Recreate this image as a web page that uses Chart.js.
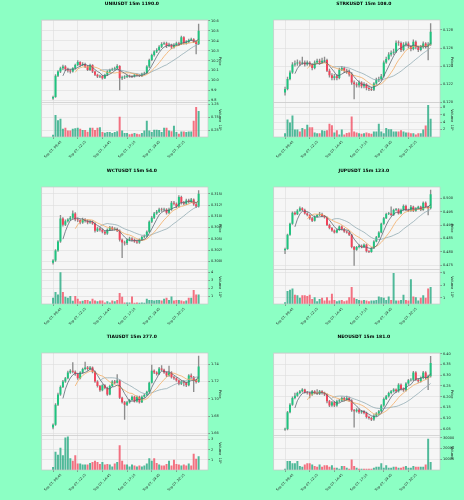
<!DOCTYPE html>
<html>
<head>
<meta charset="utf-8">
<script src="https://cdn.jsdelivr.net/npm/chart.js@4.4.1/dist/chart.umd.min.js"></script>
<style>
  body { margin: 0; width: 464px; height: 500px; overflow: hidden; position: relative; background: #8cffc4; }
  canvas { position: absolute; }
</style>
</head>
<body>
<canvas id="c0" width="232" height="166" style="left:0px;top:0px"></canvas>
<canvas id="c1" width="232" height="166" style="left:232px;top:0px"></canvas>
<canvas id="c2" width="232" height="166" style="left:0px;top:167px"></canvas>
<canvas id="c3" width="232" height="166" style="left:232px;top:167px"></canvas>
<canvas id="c4" width="232" height="166" style="left:0px;top:333px"></canvas>
<canvas id="c5" width="232" height="166" style="left:232px;top:333px"></canvas>
<script>
// date labels shown every 10 candles (15m bars)
const dateTicks = ['Sep 07, 09:45', 'Sep 07, 12:15', 'Sep 07, 14:45', 'Sep 07, 17:15', 'Sep 07, 19:45', 'Sep 07, 22:15'];

// UNIUSDT
const uniFirstOpen = 9.82;
const uniClose = [9.834,10.047,10.09,10.124,10.14,10.114,10.10,10.09,10.124,10.157,10.187,10.157,10.167,10.14,10.107,10.157,10.09,10.057,10.04,10.047,10.024,10.057,10.09,10.107,10.114,10.124,10.147,10.024,10.034,10.037,10.047,10.044,10.04,10.057,10.054,10.047,10.067,10.074,10.14,10.207,10.257,10.29,10.307,10.34,10.367,10.374,10.347,10.357,10.334,10.357,10.374,10.364,10.434,10.374,10.39,10.407,10.414,10.39,10.367,10.50];
const uniHigh = [9.845,10.06,10.10,10.135,10.155,10.15,10.125,10.11,10.13,10.165,10.20,10.19,10.18,10.175,10.15,10.165,10.16,10.095,10.065,10.055,10.05,10.065,10.10,10.115,10.125,10.135,10.16,10.15,10.045,10.05,10.055,10.055,10.05,10.065,10.065,10.06,10.075,10.085,10.15,10.215,10.265,10.30,10.32,10.35,10.38,10.385,10.385,10.375,10.365,10.37,10.385,10.385,10.445,10.44,10.40,10.415,10.425,10.42,10.40,10.567];
const uniLow = [9.81,9.83,10.04,10.08,10.11,10.10,10.085,10.075,10.085,10.115,10.15,10.145,10.15,10.13,10.10,10.10,10.08,10.05,10.03,10.03,10.015,10.02,10.05,10.08,10.10,10.105,10.115,9.907,10.01,10.02,10.03,10.035,10.03,10.035,10.045,10.04,10.04,10.06,10.07,10.13,10.20,10.245,10.28,10.30,10.33,10.36,10.33,10.34,10.32,10.325,10.35,10.35,10.36,10.365,10.365,10.38,10.40,10.38,10.267,10.36];
const uniVolume = [0.09,0.84,0.64,0.69,0.31,0.35,0.25,0.25,0.31,0.33,0.35,0.31,0.27,0.27,0.20,0.35,0.35,0.27,0.35,0.37,0.19,0.16,0.19,0.19,0.15,0.19,0.22,0.77,0.25,0.15,0.15,0.10,0.12,0.15,0.12,0.10,0.15,0.25,0.62,0.25,0.19,0.28,0.28,0.27,0.19,0.35,0.35,0.25,0.22,0.43,0.19,0.12,0.21,0.21,0.19,0.21,0.21,0.62,1.14,0.99];
const uniPriceTicks = ['9.8','9.9','10.0','10.1','10.2','10.3','10.4','10.5','10.6'];
const uniVolumeTicks = ['0.25','0.50','0.75','1.00','1.25'];

// STRKUSDT
const strkFirstOpen = 0.1211;
const strkClose = [0.1215,0.1226,0.1233,0.1242,0.1243,0.1244,0.1243,0.1244,0.1242,0.1244,0.1242,0.1238,0.1244,0.1246,0.1244,0.1246,0.1247,0.1235,0.1230,0.1227,0.1229,0.1227,0.1236,0.1238,0.1235,0.1234,0.1231,0.1222,0.1220,0.1219,0.1222,0.1218,0.1220,0.1216,0.1215,0.1214,0.1221,0.1225,0.1226,0.1229,0.1244,0.1248,0.1253,0.1255,0.1256,0.1266,0.12655,0.1258,0.1264,0.1265,0.1262,0.1259,0.1267,0.1261,0.1258,0.1261,0.1265,0.1262,0.1264,0.1278];
const strkHigh = [0.1217,0.1228,0.1235,0.1244,0.1246,0.1247,0.1246,0.1250,0.1246,0.1246,0.1245,0.1243,0.1246,0.1248,0.1248,0.1249,0.1250,0.1248,0.1237,0.1232,0.1231,0.1231,0.1238,0.1240,0.1239,0.1237,0.1236,0.1233,0.1224,0.1222,0.1224,0.1223,0.1222,0.1221,0.1218,0.1217,0.1222,0.1227,0.1228,0.1231,0.1246,0.1250,0.1255,0.1257,0.1259,0.1268,0.1268,0.1267,0.1266,0.1267,0.1267,0.1263,0.1269,0.1268,0.1262,0.1263,0.1267,0.1266,0.1266,0.1287];
const strkLow = [0.1208,0.1214,0.1225,0.1232,0.1240,0.1241,0.1241,0.1242,0.1240,0.1241,0.1240,0.1236,0.1237,0.1243,0.1242,0.1243,0.1244,0.1234,0.1228,0.1225,0.1225,0.1225,0.1226,0.1235,0.1233,0.1232,0.1229,0.1220,0.1204,0.1217,0.1217,0.1216,0.1216,0.1214,0.1213,0.1213,0.1213,0.1220,0.1223,0.1225,0.1228,0.1243,0.1247,0.1251,0.1253,0.1255,0.1263,0.1256,0.1257,0.1262,0.1260,0.1257,0.1258,0.1259,0.1256,0.1257,0.1260,0.1260,0.1247,0.1263];
const strkVolume = [1.0,4.7,3.9,5.8,2.0,2.0,1.5,2.4,2.1,3.3,2.6,2.6,1.2,1.0,1.0,1.8,1.7,1.8,3.6,3.2,1.2,1.8,0.7,2.0,0.7,1.1,1.2,5.5,1.5,1.2,1.0,0.9,1.0,1.2,1.0,0.9,1.5,1.5,3.6,1.5,1.0,2.4,2.1,2.1,1.5,1.5,1.5,1.8,1.5,1.2,1.2,1.0,1.0,0.7,1.0,1.0,2.0,3.1,8.6,4.9];
const strkPriceTicks = ['0.120','0.122','0.124','0.126','0.128'];
const strkVolumeTicks = ['2','4','6','8'];

// WCTUSDT
const wctFirstOpen = 0.2997;
const wctClose = [0.3002,0.3024,0.3044,0.3095,0.3081,0.3089,0.3093,0.3097,0.3106,0.3093,0.3091,0.3086,0.3093,0.3090,0.3086,0.3088,0.3084,0.3068,0.3073,0.3070,0.3066,0.3062,0.3070,0.3075,0.3071,0.3072,0.3068,0.3048,0.3042,0.3040,0.3048,0.3051,0.3048,0.3044,0.3042,0.3048,0.3054,0.3056,0.3066,0.3088,0.3097,0.3106,0.3110,0.3115,0.3114,0.3115,0.3108,0.3115,0.3130,0.3128,0.3122,0.3143,0.3130,0.3128,0.3135,0.3132,0.3137,0.3127,0.3122,0.3150];
const wctHigh = [0.3004,0.3026,0.3046,0.3102,0.3097,0.3092,0.3095,0.3100,0.3112,0.3108,0.3096,0.3093,0.3096,0.3095,0.3092,0.3091,0.3090,0.3086,0.3076,0.3075,0.3072,0.3068,0.3072,0.3078,0.3077,0.3075,0.3074,0.3070,0.3050,0.3045,0.3050,0.3054,0.3053,0.3050,0.3047,0.3050,0.3056,0.3059,0.3068,0.3090,0.3100,0.3109,0.3113,0.3118,0.3118,0.3118,0.3117,0.3118,0.3133,0.3133,0.3130,0.3146,0.3145,0.3133,0.3138,0.3138,0.3140,0.3139,0.3130,0.3157];
const wctLow = [0.2994,0.3000,0.3022,0.3042,0.3078,0.3079,0.3087,0.3091,0.3095,0.3090,0.3088,0.3083,0.3084,0.3087,0.3083,0.3084,0.3082,0.3065,0.3066,0.3067,0.3063,0.3059,0.3060,0.3068,0.3069,0.3069,0.3066,0.3045,0.3008,0.3036,0.3037,0.3046,0.3045,0.3042,0.3040,0.3040,0.3046,0.3052,0.3054,0.3064,0.3086,0.3095,0.3104,0.3108,0.3111,0.3112,0.3105,0.3106,0.3113,0.3125,0.3119,0.3120,0.3127,0.3125,0.3126,0.3129,0.3130,0.3124,0.3119,0.3120];
const wctVolume = [0.8,1.5,1.2,4.0,1.5,0.9,0.8,1.0,0.4,1.0,0.65,0.35,0.4,0.5,0.5,0.35,0.65,0.45,0.35,0.45,0.45,0.2,0.35,0.2,0.45,0.35,0.5,1.4,0.9,0.2,0.2,0.2,0.95,0.15,0.2,0.15,0.2,0.15,0.65,0.5,0.5,0.45,0.5,0.5,0.45,0.65,0.8,0.5,0.95,0.45,0.5,0.5,0.45,0.35,0.45,0.8,0.8,1.75,1.2,1.2];
const wctPriceTicks = ['0.3000','0.3025','0.3050','0.3075','0.3100','0.3125','0.3150'];
const wctVolumeTicks = ['1','2','3','4'];

// JUPUSDT
const jupFirstOpen = 0.4806;
const jupClose = [0.4811,0.4864,0.4905,0.4947,0.4941,0.4954,0.4963,0.4957,0.4944,0.4938,0.4926,0.4917,0.4932,0.4938,0.4942,0.4934,0.4929,0.4901,0.4889,0.4880,0.4873,0.4882,0.4895,0.4885,0.4876,0.4873,0.4864,0.4818,0.4808,0.4818,0.4823,0.4818,0.4827,0.4802,0.4800,0.4814,0.4839,0.4855,0.4873,0.4905,0.4926,0.4942,0.4944,0.4938,0.4957,0.4959,0.4944,0.4957,0.4972,0.4957,0.4954,0.4969,0.4954,0.4963,0.4969,0.4957,0.4984,0.4969,0.4963,0.5016];
const jupHigh = [0.4814,0.4867,0.4908,0.4950,0.4951,0.4958,0.4969,0.4966,0.4960,0.4947,0.4940,0.4929,0.4935,0.4941,0.4948,0.4945,0.4937,0.4931,0.4904,0.4892,0.4883,0.4885,0.4898,0.4898,0.4888,0.4879,0.4876,0.4866,0.4821,0.4821,0.4826,0.4826,0.4830,0.4829,0.4805,0.4817,0.4842,0.4858,0.4876,0.4908,0.4929,0.4945,0.4948,0.4969,0.4960,0.4963,0.4962,0.4960,0.4976,0.4975,0.4960,0.4974,0.4972,0.4966,0.4972,0.4972,0.4987,0.4987,0.4972,0.5031];
const jupLow = [0.4793,0.4809,0.4862,0.4903,0.4938,0.4939,0.4952,0.4954,0.4941,0.4935,0.4922,0.4913,0.4915,0.4930,0.4936,0.4931,0.4926,0.4898,0.4886,0.4877,0.4870,0.4871,0.4880,0.4882,0.4873,0.4870,0.4861,0.4815,0.4749,0.4805,0.4815,0.4815,0.4816,0.4799,0.4797,0.4798,0.4812,0.4837,0.4853,0.4871,0.4903,0.4924,0.4939,0.4935,0.4936,0.4954,0.4941,0.4942,0.4955,0.4954,0.4951,0.4952,0.4951,0.4952,0.4960,0.4954,0.4955,0.4966,0.4938,0.4961];
const jupVolume = [0.3,2.1,2.3,2.5,1.5,1.4,1.0,1.4,1.4,1.3,1.5,0.8,1.1,0.45,0.8,1.0,0.55,1.1,0.55,1.65,0.65,0.45,0.55,0.65,0.45,0.55,1.1,2.75,1.0,0.8,0.65,0.55,0.65,0.55,0.45,0.55,0.55,0.65,1.2,1.1,1.0,0.65,1.2,0.65,5.0,0.55,0.55,0.65,1.5,0.65,0.55,4.0,1.2,1.1,0.55,1.0,1.4,1.0,2.5,2.75];
const jupPriceTicks = ['0.475','0.480','0.485','0.490','0.495','0.500'];
const jupVolumeTicks = ['1','2','3','4','5'];

// TIAUSDT
const tiaFirstOpen = 1.6668;
const tiaClose = [1.6698,1.6931,1.7051,1.7137,1.7201,1.7238,1.7306,1.7325,1.7314,1.7287,1.7238,1.7306,1.7344,1.7362,1.7344,1.7362,1.7314,1.7201,1.7148,1.7100,1.7156,1.7126,1.7051,1.7148,1.7201,1.7186,1.7212,1.7013,1.6961,1.6931,1.6961,1.6987,1.7024,1.6969,1.7024,1.6961,1.7024,1.7043,1.7081,1.7186,1.7325,1.7306,1.7287,1.7351,1.7336,1.7306,1.7269,1.7306,1.7250,1.7238,1.7212,1.7175,1.7201,1.7186,1.7156,1.7269,1.7250,1.7212,1.7195,1.7374];
const tiaHigh = [1.6710,1.6945,1.7065,1.7150,1.7215,1.7250,1.7320,1.7340,1.7419,1.7325,1.7295,1.7315,1.7355,1.7426,1.7375,1.7375,1.7370,1.7320,1.7210,1.7155,1.7165,1.7165,1.7135,1.7160,1.7210,1.7215,1.7280,1.7220,1.7020,1.6970,1.6970,1.6995,1.7035,1.7030,1.7035,1.7030,1.7035,1.7055,1.7090,1.7195,1.7390,1.7335,1.7315,1.7365,1.7385,1.7345,1.7315,1.7380,1.7315,1.7260,1.7245,1.7220,1.7210,1.7210,1.7195,1.7280,1.7290,1.7260,1.7225,1.7494];
const tiaLow = [1.6649,1.6690,1.6920,1.7040,1.7130,1.7190,1.7230,1.7295,1.7300,1.7270,1.7225,1.7230,1.7295,1.7335,1.7330,1.7335,1.7300,1.7190,1.7135,1.7085,1.7090,1.7115,1.7040,1.7045,1.7140,1.7175,1.7180,1.7000,1.6950,1.6761,1.6920,1.6950,1.6980,1.6960,1.6960,1.6950,1.6955,1.7015,1.7035,1.7075,1.7180,1.7290,1.7275,1.7280,1.7325,1.7295,1.7255,1.7260,1.7240,1.7225,1.7200,1.7160,1.7165,1.7150,1.7140,1.7150,1.7240,1.7081,1.7180,1.7190];
const tiaVolume = [0.3,1.8,1.5,2.2,1.45,3.2,3.3,1.15,0.9,1.45,0.65,0.65,0.55,0.55,0.55,0.7,0.8,0.9,0.8,0.6,0.8,0.55,0.6,0.55,0.35,0.65,0.8,2.45,0.9,0.55,0.55,0.35,0.55,0.45,0.35,0.45,0.35,0.45,0.65,1.15,0.9,1.15,0.7,0.55,0.45,0.45,0.6,0.9,0.45,1.0,0.6,0.55,0.45,0.55,0.45,0.65,0.45,1.6,1.1,1.35];
const tiaPriceTicks = ['1.66','1.68','1.70','1.72','1.74'];
const tiaVolumeTicks = ['1','2','3'];

// NEOUSDT
const neoFirstOpen = 6.048;
const neoClose = [6.050,6.128,6.163,6.194,6.205,6.217,6.225,6.233,6.220,6.217,6.210,6.225,6.217,6.214,6.225,6.217,6.210,6.179,6.159,6.174,6.159,6.179,6.183,6.194,6.186,6.194,6.183,6.137,6.132,6.140,6.128,6.132,6.125,6.106,6.101,6.094,6.112,6.121,6.132,6.159,6.190,6.202,6.217,6.225,6.233,6.225,6.256,6.236,6.230,6.261,6.276,6.279,6.313,6.279,6.272,6.287,6.313,6.287,6.295,6.357];
const neoHigh = [6.054,6.132,6.168,6.199,6.217,6.222,6.230,6.238,6.236,6.224,6.221,6.230,6.229,6.233,6.230,6.229,6.221,6.213,6.183,6.179,6.178,6.184,6.188,6.199,6.198,6.203,6.198,6.187,6.141,6.145,6.144,6.137,6.136,6.129,6.110,6.105,6.117,6.126,6.137,6.164,6.195,6.207,6.222,6.230,6.238,6.237,6.261,6.260,6.241,6.266,6.281,6.284,6.318,6.317,6.284,6.292,6.318,6.317,6.300,6.388];
const neoLow = [6.044,6.046,6.125,6.160,6.190,6.201,6.213,6.221,6.216,6.212,6.194,6.206,6.213,6.210,6.210,6.212,6.205,6.171,6.154,6.155,6.154,6.155,6.175,6.179,6.181,6.182,6.178,6.132,6.059,6.128,6.123,6.123,6.120,6.101,6.096,6.089,6.090,6.108,6.117,6.128,6.155,6.186,6.198,6.213,6.221,6.220,6.221,6.231,6.225,6.226,6.257,6.272,6.275,6.274,6.267,6.268,6.283,6.282,6.233,6.291];
const neoVolume = [12000,83000,83000,62000,62000,83000,37000,31000,52000,62000,62000,52000,37000,31000,52000,31000,43000,43000,31000,43000,22000,22000,12000,37000,37000,22000,12000,98000,37000,22000,12000,12000,12000,12000,12000,12000,22000,31000,31000,62000,22000,43000,22000,22000,31000,31000,22000,22000,31000,37000,22000,22000,37000,31000,31000,31000,31000,52000,290000,74000];
const neoPriceTicks = ['6.05','6.10','6.15','6.20','6.25','6.30','6.35','6.40'];
const neoVolumeTicks = ['100000','200000','300000'];

const panels = [
  { id: 'c0', title: 'UNIUSDT 15m 1190.0', firstOpen: uniFirstOpen, close: uniClose, high: uniHigh, low: uniLow, volume: uniVolume, priceTicks: uniPriceTicks, volumeTicks: uniVolumeTicks, priceMin: 9.78, priceMax: 10.607, volumeMax: 1.31, volumeTitle: 'Volume  10⁶' },
  { id: 'c1', title: 'STRKUSDT 15m 108.0', firstOpen: strkFirstOpen, close: strkClose, high: strkHigh, low: strkLow, volume: strkVolume, priceTicks: strkPriceTicks, volumeTicks: strkVolumeTicks, priceMin: 0.1200, priceMax: 0.1291, volumeMax: 9.3, volumeTitle: 'Volume  10⁶' },
  { id: 'c2', title: 'WCTUSDT 15m 54.0', firstOpen: wctFirstOpen, close: wctClose, high: wctHigh, low: wctLow, volume: wctVolume, priceTicks: wctPriceTicks, volumeTicks: wctVolumeTicks, priceMin: 0.2982, priceMax: 0.3165, volumeMax: 4.35, volumeTitle: 'Volume  10⁶' },
  { id: 'c3', title: 'JUPUSDT 15m 123.0', firstOpen: jupFirstOpen, close: jupClose, high: jupHigh, low: jupLow, volume: jupVolume, priceTicks: jupPriceTicks, volumeTicks: jupVolumeTicks, priceMin: 0.4734, priceMax: 0.5043, volumeMax: 5.55, volumeTitle: 'Volume  10⁶' },
  { id: 'c4', title: 'TIAUSDT 15m 277.0', firstOpen: tiaFirstOpen, close: tiaClose, high: tiaHigh, low: tiaLow, volume: tiaVolume, priceTicks: tiaPriceTicks, volumeTicks: tiaVolumeTicks, priceMin: 1.6574, priceMax: 1.7531, volumeMax: 3.4, volumeTitle: 'Volume  10⁶' },
  { id: 'c5', title: 'NEOUSDT 15m 181.0', firstOpen: neoFirstOpen, close: neoClose, high: neoHigh, low: neoLow, volume: neoVolume, priceTicks: neoPriceTicks, volumeTicks: neoVolumeTicks, priceMin: 6.02, priceMax: 6.403, volumeMax: 320000, volumeTitle: 'Volume' }
];

const upColor = '#1ec47f';
const downColor = '#f2435a';
const upVolColor = 'rgba(38,170,130,0.8)';
const downVolColor = 'rgba(242,80,100,0.8)';
const gridColor = '#dddddd';
const font = 'DejaVu Sans';

// simple moving average over the closes, like mplfinance's mav
function sma(values, n) {
  return values.map((v, i) => {
    if (i < n - 1) return { x: i, y: null };
    let sum = 0;
    for (let k = i - n + 1; k <= i; k++) sum += values[k];
    return { x: i, y: sum / n };
  });
}

// fills the plot area and draws the frame and the price/volume divider
const plotFrame = {
  id: 'plotFrame',
  beforeDraw(chart) {
    const { ctx, chartArea: a } = chart;
    ctx.save();
    ctx.fillStyle = '#f6f6f6';
    ctx.fillRect(a.left, a.top, a.right - a.left, a.bottom - a.top);
    ctx.restore();
  },
  afterDraw(chart) {
    const { ctx, chartArea: a } = chart;
    const sep = chart.scales.y.bottom;
    ctx.save();
    ctx.strokeStyle = '#c8c8c8';
    ctx.lineWidth = 0.7;
    ctx.strokeRect(a.left, a.top, a.right - a.left, a.bottom - a.top);
    ctx.beginPath();
    ctx.moveTo(a.left, sep);
    ctx.lineTo(a.right, sep);
    ctx.stroke();
    ctx.restore();
  }
};

function drawPanel(p) {
  const opens = [p.firstOpen].concat(p.close.slice(0, -1));
  const up = p.close.map((c, i) => c >= opens[i]);

  new Chart(document.getElementById(p.id), {
    type: 'bar',
    data: {
      datasets: [
        { type: 'line', data: sma(p.close, 5), yAxisID: 'y', borderColor: '#56626e', borderWidth: 0.75, pointRadius: 0, order: 0 },
        { type: 'line', data: sma(p.close, 10), yAxisID: 'y', borderColor: '#f3a85c', borderWidth: 0.75, pointRadius: 0, order: 0 },
        { type: 'line', data: sma(p.close, 20), yAxisID: 'y', borderColor: '#8ea8b0', borderWidth: 0.75, pointRadius: 0, order: 0 },
        {
          data: p.close.map((c, i) => ({ x: i, y: [opens[i], c] })), yAxisID: 'y',
          backgroundColor: up.map(u => u ? upColor : downColor),
          grouped: false, barPercentage: 0.8, categoryPercentage: 1, minBarLength: 0.6, order: 1
        },
        {
          data: p.high.map((h, i) => ({ x: i, y: [p.low[i], h] })), yAxisID: 'y',
          backgroundColor: '#8d8d8d', grouped: false, barThickness: 0.7, order: 2
        },
        {
          data: p.volume.map((v, i) => ({ x: i, y: v })), yAxisID: 'vol',
          backgroundColor: up.map(u => u ? upVolColor : downVolColor),
          grouped: false, barPercentage: 0.8, categoryPercentage: 1, order: 1
        }
      ]
    },
    options: {
      responsive: false,
      animation: false,
      layout: { padding: { left: 41.7, right: 10, top: 0, bottom: 0 } },
      plugins: {
        legend: { display: false },
        tooltip: { enabled: false },
        title: {
          display: true, text: p.title, color: '#000',
          font: { family: font, size: 4.5, weight: 'bold' },
          padding: { top: 1, bottom: 13.6 }
        }
      },
      scales: {
        x: {
          type: 'linear', min: -4.6, max: 62.8, offset: false,
          afterBuildTicks: ax => { ax.ticks = dateTicks.map((_, k) => ({ value: k * 10 })); },
          afterFit: ax => { ax.height = 29; },
          ticks: {
            callback: (v, k) => dateTicks[k], autoSkip: false,
            minRotation: 45, maxRotation: 45, labelOffset: 8, padding: 1,
            color: '#222', font: { family: font, size: 3.3 }
          },
          grid: { color: gridColor, lineWidth: 0.6, offset: false, tickLength: 2, tickColor: '#666' },
          border: { display: false }
        },
        y: {
          type: 'linear', position: 'right', stack: 'panel', stackWeight: 82.5,
          min: p.priceMin, max: p.priceMax,
          afterBuildTicks: ax => { ax.ticks = p.priceTicks.map(s => ({ value: parseFloat(s) })); },
          afterFit: ax => { ax.width = 14; },
          ticks: { callback: (v, k) => p.priceTicks[k], padding: 1, color: '#222', font: { family: font, size: 3.5 } },
          grid: { color: gridColor, lineWidth: 0.6, tickLength: 2, tickColor: '#666' },
          border: { display: false },
          title: { display: true, text: 'Price', color: '#222', font: { family: font, size: 3.5 }, padding: 0 }
        },
        vol: {
          type: 'linear', position: 'right', stack: 'panel', stackWeight: 34.5,
          min: 0, max: p.volumeMax,
          afterBuildTicks: ax => { ax.ticks = p.volumeTicks.map(s => ({ value: parseFloat(s) })); },
          afterFit: ax => { ax.width = 14; },
          ticks: { callback: (v, k) => p.volumeTicks[k], padding: 1, color: '#222', font: { family: font, size: 3.5 } },
          grid: { color: gridColor, lineWidth: 0.6, tickLength: 2, tickColor: '#666' },
          border: { display: false },
          title: { display: true, text: p.volumeTitle, color: '#222', font: { family: font, size: 3.5 }, padding: 0 }
        }
      }
    },
    plugins: [plotFrame]
  });
}

panels.forEach(drawPanel);
</script>
</body>
</html>
